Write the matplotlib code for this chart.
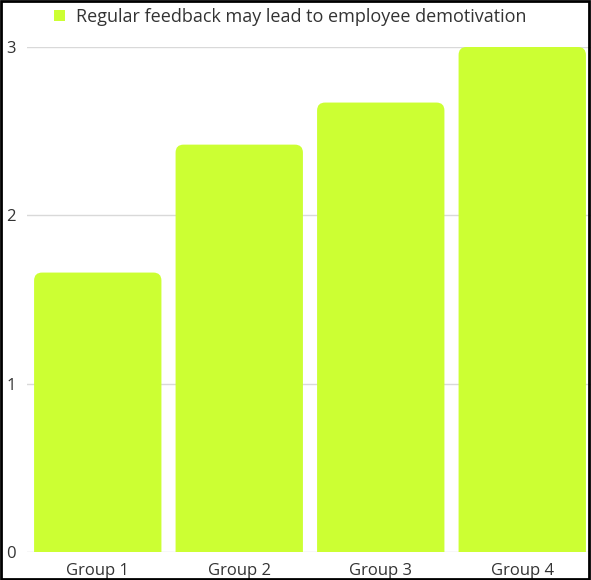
import matplotlib
matplotlib.use("Agg")
import matplotlib.pyplot as plt
from matplotlib.patches import FancyBboxPatch, Patch, Rectangle

groups = ["Group 1", "Group 2", "Group 3", "Group 4"]
values = [1.66, 2.42, 2.67, 3.0]
series_name = "Regular feedback may lead to employee demotivation"
y_ticks = [0, 1, 2, 3]

bar_color = "#ccff33"
plt.rcParams['font.family'] = ['Open Sans', 'DejaVu Sans']

fig = plt.figure(figsize=(5.91, 5.80), dpi=100)
W, H = 591, 580
ax = fig.add_axes([27 / W, 1 - 552 / H, (W - 27) / W, (552 - 47) / H])

# draw bars via the axes, then swap them for rounded-top patches
bars = ax.bar(groups, values, width=0.9, color=bar_color, alpha=0)
x_px = 141.5   # px per x unit
y_px = 168.3   # px per y unit
r = 8 / x_px
for b in bars:
    ry = 8 / y_px
    patch = FancyBboxPatch((b.get_x(), -ry), b.get_width(), b.get_height() + ry,
                           boxstyle=f"round,pad=0,rounding_size={r}",
                           mutation_aspect=(8 / y_px) / r,
                           facecolor=bar_color, edgecolor='none', zorder=2)
    ax.add_patch(patch)

ax.set_xlim(-0.5, -0.5 + (W - 27) / x_px)
ax.set_ylim(0, 3)
ax.set_yticks(y_ticks)
ax.set_yticklabels([str(t) for t in y_ticks])
ax.yaxis.grid(True, color='#d9d9d9', linewidth=1)
ax.set_axisbelow(True)
for s in ax.spines.values():
    s.set_visible(False)
ax.tick_params(axis='both', length=0, labelsize=12, colors='#333333')
ax.tick_params(axis='x', pad=8)
for lbl in ax.get_yticklabels():
    lbl.set_horizontalalignment('left')
ax.yaxis.set_tick_params(pad=15)

fig.legend(handles=[Patch(facecolor=bar_color, label=series_name)],
           loc='center left', bbox_to_anchor=(50 / W, 1 - 17 / H),
           frameon=False, fontsize=13, handlelength=0.62, handleheight=0.62,
           handletextpad=0.6, labelcolor='#333333', borderaxespad=0, borderpad=0.2)

fig.patches.append(Rectangle((0.002, 0.002), 0.994, 0.996, transform=fig.transFigure,
                             fill=False, edgecolor='black', linewidth=2))

fig.savefig("out.png", dpi=100)
